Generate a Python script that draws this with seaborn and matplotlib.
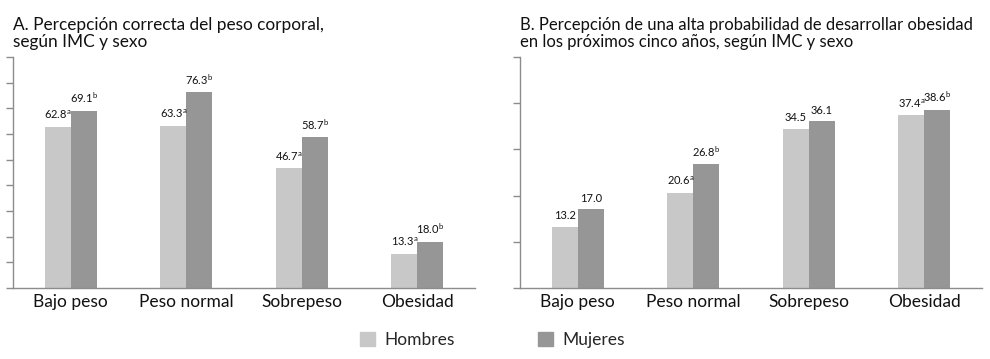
import pandas as pd
import numpy as np
import matplotlib.pyplot as plt
import seaborn as sns

# Datos
categorias = ['Bajo peso', 'Peso normal', 'Sobrepeso', 'Obesidad']
sexos = ['Hombres', 'Mujeres']

a_hombres = [62.8, 63.3, 46.7, 13.3]
a_mujeres = [69.1, 76.3, 58.7, 18.0]
a_sup_hombres = ['a', 'a', 'a', 'a']
a_sup_mujeres = ['b', 'b', 'b', 'b']

b_hombres = [13.2, 20.6, 34.5, 37.4]
b_mujeres = [17.0, 26.8, 36.1, 38.6]
b_sup_hombres = ['', 'a', '', 'a']
b_sup_mujeres = ['', 'b', '', 'b']

titulo_a = 'A. Percepción correcta del peso corporal,\nsegún IMC y sexo'
titulo_b = ('B. Percepción de una alta probabilidad de desarrollar obesidad\n'
            'en los próximos cinco años, según IMC y sexo')

colores = {'Hombres': '#c8c8c8', 'Mujeres': '#969696'}
gris_eje = '#8c8c8c'

sns.set_style('white')
plt.rcParams['font.family'] = ['Lato', 'DejaVu Sans']
plt.rcParams['mathtext.fontset'] = 'custom'
plt.rcParams['mathtext.rm'] = 'Lato'
plt.rcParams['mathtext.it'] = 'Lato'


def armar_df(hombres, mujeres):
    return pd.DataFrame({
        'categoria': categorias * 2,
        'sexo': ['Hombres'] * 4 + ['Mujeres'] * 4,
        'valor': hombres + mujeres,
    })


def etiqueta(v, s):
    txt = f'{v:.1f}'
    if s:
        txt += r'$^{\mathrm{' + s + '}}$'
    return txt


fig = plt.figure(figsize=(9.9, 3.59), dpi=100)
ax_a = fig.add_axes([0.0131, 0.1978, 0.4667, 0.6435])
ax_b = fig.add_axes([0.5253, 0.1978, 0.4667, 0.6435])

paneles = [
    (ax_a, a_hombres, a_mujeres, a_sup_hombres, a_sup_mujeres, 90, titulo_a, 12.4),
    (ax_b, b_hombres, b_mujeres, b_sup_hombres, b_sup_mujeres, 50, titulo_b, 12),
]

for ax, hom, muj, sh, sm, ymax, titulo, tam in paneles:
    df = armar_df(hom, muj)
    sns.barplot(data=df, x='categoria', y='valor', hue='sexo', order=categorias,
                hue_order=sexos, palette=colores, width=0.45, linewidth=0,
                ax=ax, legend=False)
    # etiquetas sobre las barras
    for cont, vals, sups in zip(ax.containers, [hom, muj], [sh, sm]):
        for bar, v, s in zip(cont, vals, sups):
            ax.annotate(etiqueta(v, s),
                        (bar.get_x() + bar.get_width() / 2, bar.get_height()),
                        xytext=(0, 4), textcoords='offset points',
                        ha='center', va='bottom', fontsize=8, color='#111111')
    ax.set_xlim(-0.5, 3.5)
    ax.set_ylim(0, ymax)
    ax.set_yticks(np.arange(0, ymax + 1, 10))
    ax.set_yticklabels([])
    ax.set_xlabel('')
    ax.set_ylabel('')
    ax.set_xticks(np.arange(-0.5, 4, 1), minor=True)
    ax.tick_params(axis='x', which='major', length=0, labelsize=12.5, pad=4,
                   labelcolor='#111111')
    ax.tick_params(axis='x', which='minor', length=7, width=1, color=gris_eje,
                   direction='out')
    ax.tick_params(axis='y', length=5, width=1, color=gris_eje, direction='out', left=True)
    sns.despine(ax=ax)
    for sp in ['left', 'bottom']:
        ax.spines[sp].set_color(gris_eje)
        ax.spines[sp].set_linewidth(1)
    ax.set_title(titulo, loc='left', fontsize=tam, pad=7, linespacing=1.1,
                 color='#111111')

# Leyenda
handles = [plt.Rectangle((0, 0), 1, 1, color=colores[s]) for s in sexos]
fig.legend(handles, sexos, loc='center', bbox_to_anchor=(0.497, 0.053), ncol=2,
           frameon=False, fontsize=12.5, handlelength=0.9, handleheight=0.9,
           columnspacing=4.8, handletextpad=0.5)

plt.savefig('out.png', dpi=100)
